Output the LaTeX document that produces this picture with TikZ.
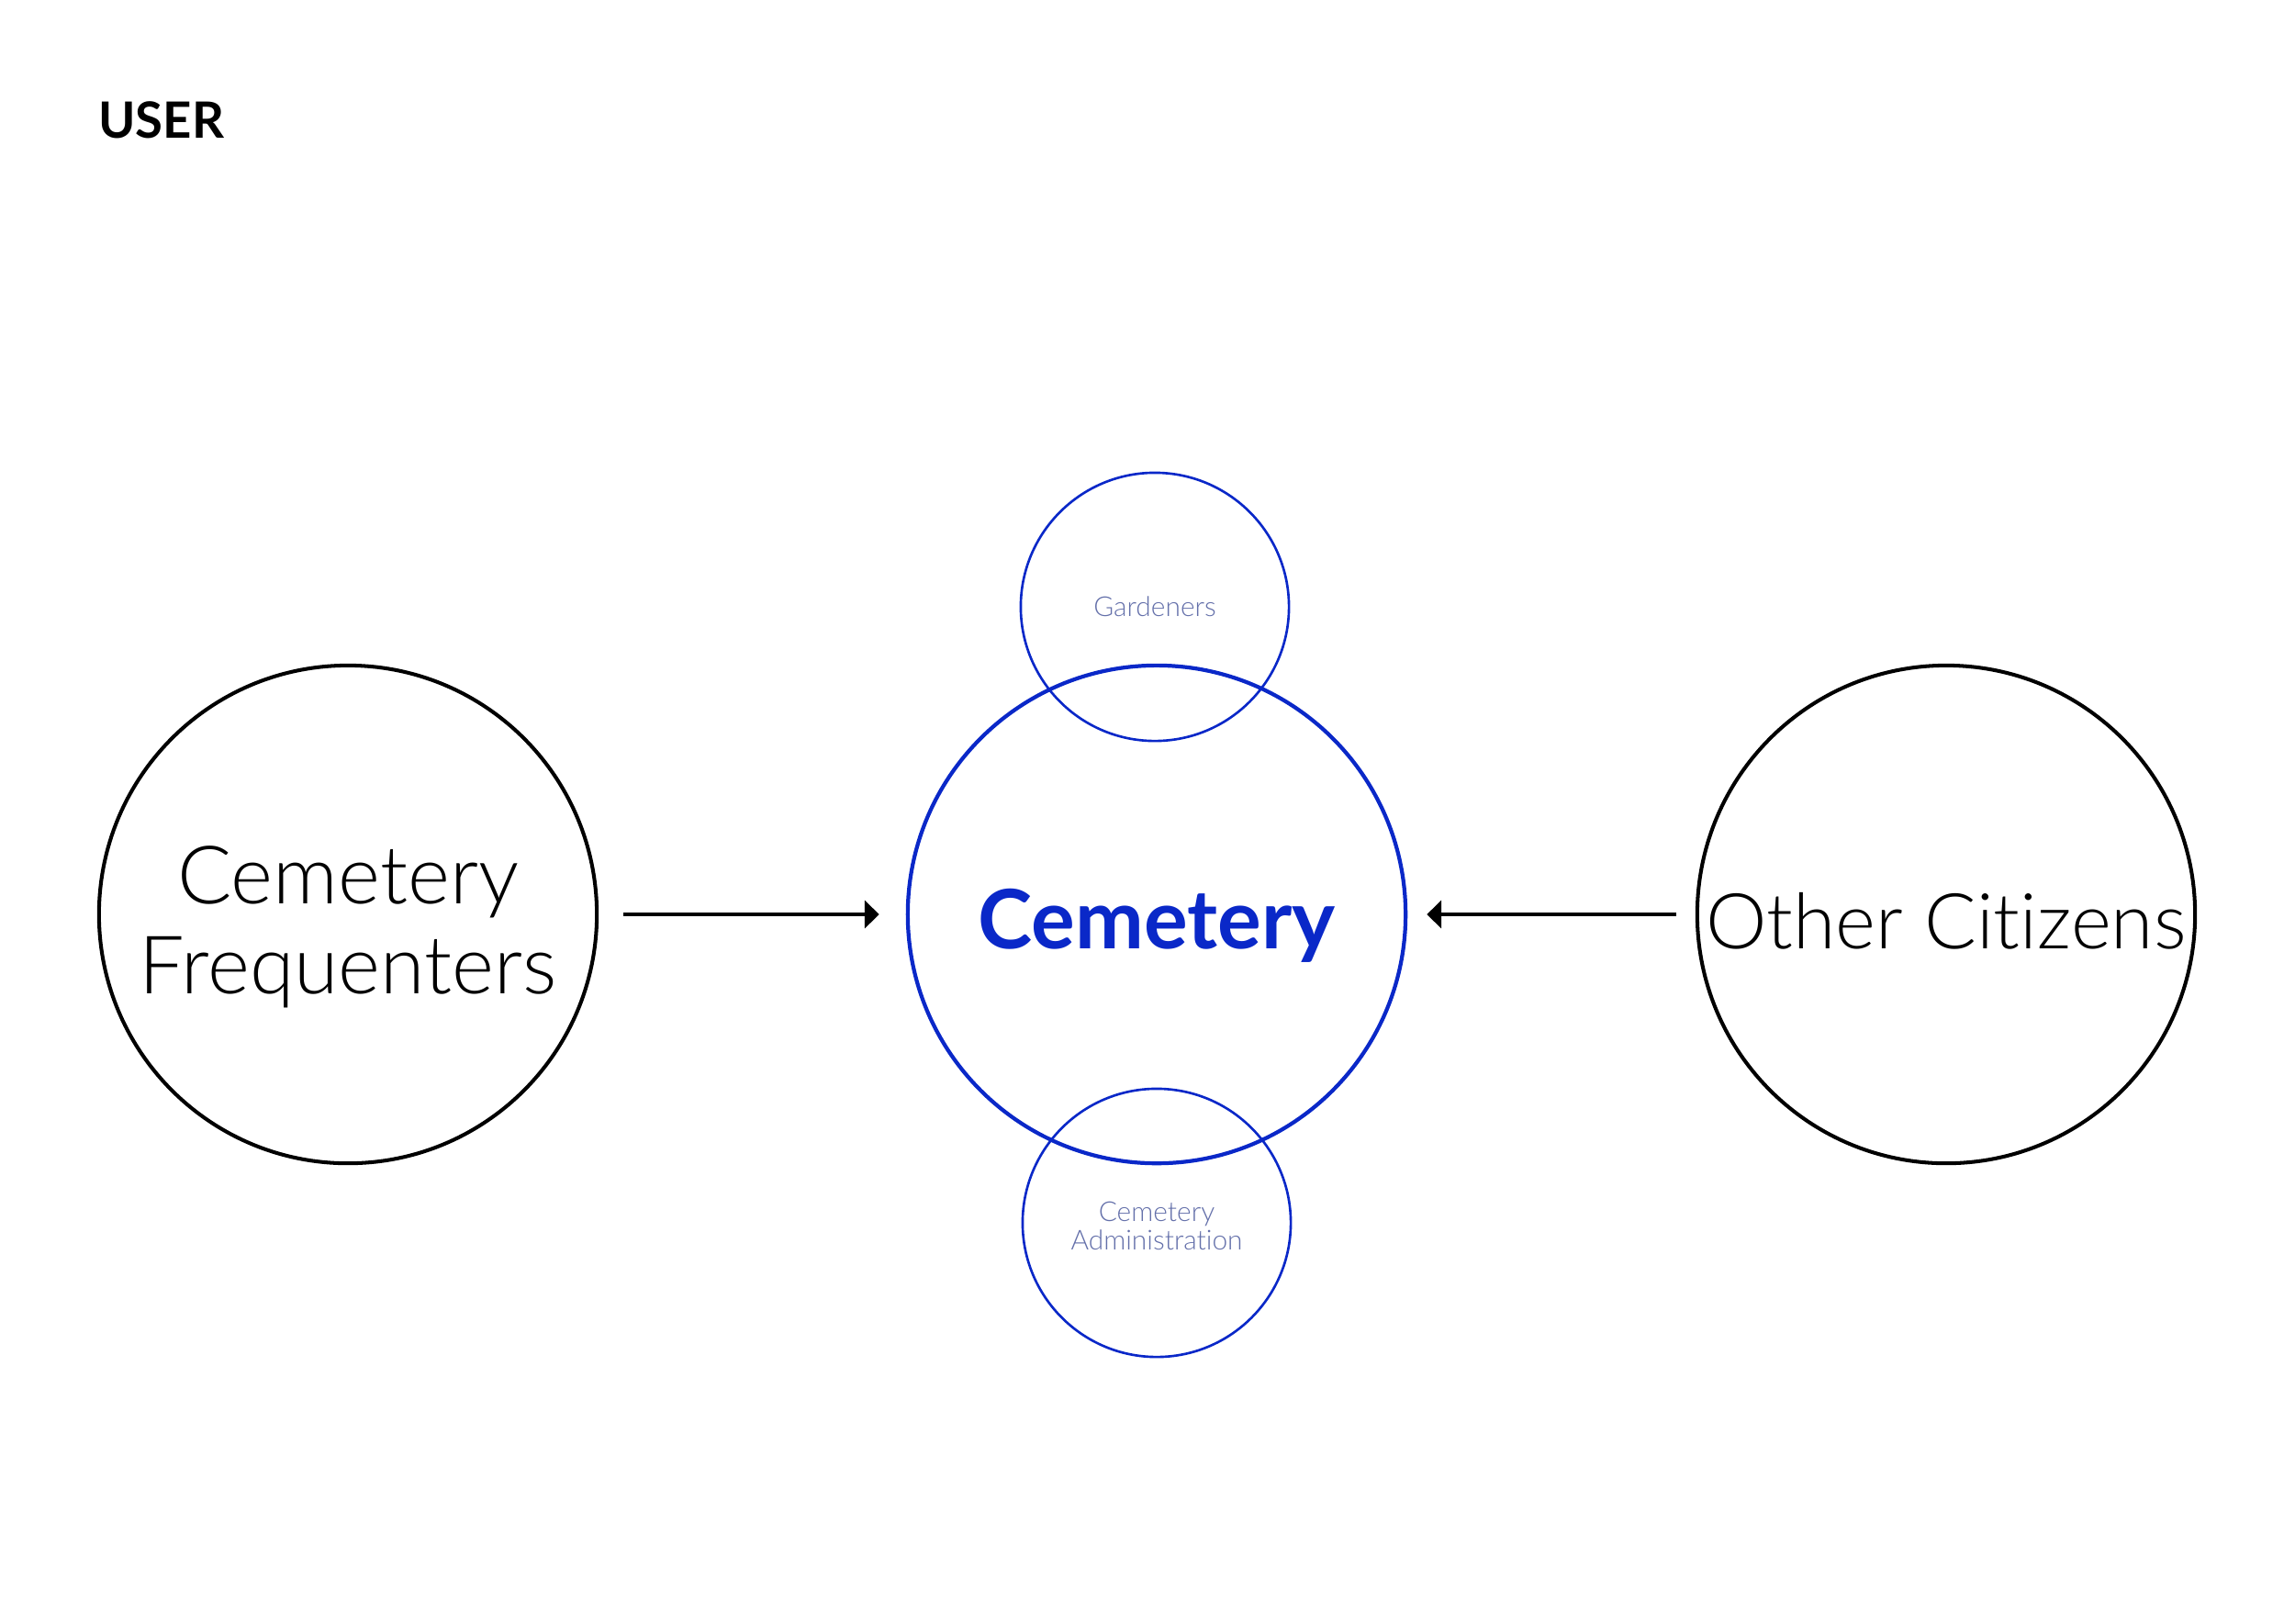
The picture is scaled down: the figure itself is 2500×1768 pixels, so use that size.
\documentclass[tikz,border=0pt]{standalone}
\usepackage{fontspec}
\setmainfont{Lato}
\newfontfamily\thinfont[Ligatures={NoCommon,NoRequired,NoContextual}]{Lato-Light.ttf}
\usetikzlibrary{arrows.meta}
\definecolor{cemblue}{RGB}{10,40,200}
\definecolor{subtext}{RGB}{100,112,170}
\tikzset{
	bigring/.style = {circle, draw, line width=1.15pt, minimum size=5.42cm, inner sep=0pt},
	bigtext/.style = {align=center, font=\thinfont\fontsize{25}{28}\selectfont},
	smallring/.style = {circle, draw=cemblue, line width=0.75pt, minimum size=2.92cm, inner sep=0pt, align=center, text=subtext, font=\thinfont\fontsize{8.5}{8.8}\selectfont},
	userarrow/.style = {line width=1.25pt, -{Triangle[length=4.5pt,width=8.5pt]}}
}
\begin{document}
\begin{tikzpicture}[x=0.01cm, y=-0.01cm]
	\useasboundingbox (0,0) rectangle (2500,1768);
	\node [anchor=west, font=\bfseries\fontsize{15.5}{15.5}\selectfont] (title) at (95,131) {USER};
	% the two user groups
	\node [bigring, label={[bigtext, yshift=-0.14cm]center:Cemetery\\Frequenters}] (freq) at (379,996) {};
	\node [bigring, label={[bigtext, font=\thinfont\fontsize{23.9}{28}\selectfont, yshift=-0.07cm]center:Other Citizens}] (citizens) at (2120,996) {};
	% the cemetery and its staff
	\node [smallring] (gard) at (1258,661) {\\[-3pt]Gardeners};
	\node [smallring] (admin) at (1260,1332) {\\[-1pt]Cemetery\\Administration};
	\node [bigring, draw=cemblue, line width=1.2pt, label={[text=cemblue, font=\bfseries\fontsize{25.4}{25}\selectfont, yshift=-0.12cm]center:Cemetery}] (cem) at (1260,996) {};
	\draw [userarrow, shorten <=0.27cm, shorten >=0.29cm] (freq) -- (cem);
	\draw [userarrow, shorten <=0.21cm, shorten >=0.21cm] (citizens) -- (cem);
\end{tikzpicture}
\end{document}
